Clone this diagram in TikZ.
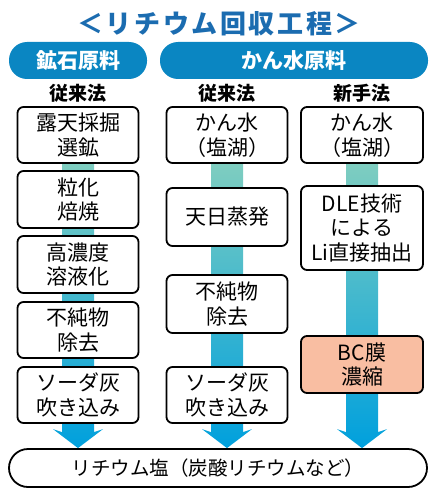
\documentclass[tikz,border=0pt]{standalone}
\usepackage{fontspec}
\setmainfont{Noto Sans CJK JP}
\newfontfamily\titlefont[LetterSpace=10]{Noto Sans CJK JP}
\usetikzlibrary{calc,backgrounds}
\definecolor{titleblue}{RGB}{27,108,176}
\definecolor{headblue}{RGB}{10,134,194}
\definecolor{barTop}{RGB}{126,205,192}
\definecolor{barBot}{RGB}{0,160,221}
\definecolor{salmon}{RGB}{249,190,162}
\tikzset{
  stepbox/.style={draw=black, line width=1.8pt, rounded corners=6pt, fill=white,
    minimum width=121pt, align=center, inner sep=0pt,
    font=\fontsize{21}{24.5}\selectfont},
  headpill/.style={fill=headblue, rounded corners=18pt, minimum height=37pt,
    text=white, inner sep=0pt, font=\fontsize{21}{24}\selectfont\bfseries},
  subhead/.style={inner sep=0pt, font=\fontsize{19}{22}\selectfont\bfseries},
  finpill/.style={draw=black, line width=1.8pt, rounded corners=19pt, fill=white,
    minimum width=418pt, minimum height=38pt, inner sep=0pt,
    font=\fontsize{19.5}{22}\selectfont},
  flowbar/.style={top color=barTop, bottom color=barBot, draw=none}
}
\newcommand\flowarrow[2]{%
  \shade[flowbar] ($(#1.south)+(-16,0)$) -- ($(#2)+(-16,-16)$) -- ($(#2)+(-25,-19)$)
    -- (#2) -- ($(#2)+(25,-19)$) -- ($(#2)+(16,-16)$) -- ($(#1.south)+(16,0)$) -- cycle;}
\begin{document}
\begin{tikzpicture}[x=1pt,y=-1pt]
\useasboundingbox (0,0) rectangle (430,500);
% title
\node[inner sep=0pt, text=titleblue, font=\titlefont\fontsize{26}{30}\selectfont\bfseries] (title) at (219,24) {＜リチウム回収工程＞};
% headers
\node[headpill, minimum width=138pt] (hOre) at (78,60.5) {鉱石原料};
\node[headpill, minimum width=268pt] (hBrine) at (294,60.5) {かん水原料};
\node[subhead] (s1) at (78,93) {従来法};
\node[subhead] (s2) at (227,93) {従来法};
\node[subhead] (s3) at (362,93) {新手法};
% column 1
\node[stepbox, minimum height=56pt] (a1) at (78,135) {露天採掘\\選鉱};
\node[stepbox, minimum height=57pt] (a2) at (78,199.5) {粒化\\焙焼};
\node[stepbox, minimum height=57pt] (a3) at (78,264.5) {高濃度\\溶液化};
\node[stepbox, minimum height=56pt] (a4) at (78,330) {不純物\\除去};
\node[stepbox, minimum height=56pt] (a5) at (78,395) {ソーダ灰\\吹き込み};
% column 2
\node[stepbox, minimum height=56pt] (b1) at (227,135) {かん水\\（塩湖）};
\node[stepbox, minimum height=58pt] (b2) at (227,217) {天日蒸発};
\node[stepbox, minimum height=58pt] (b3) at (227,304) {不純物\\除去};
\node[stepbox, minimum height=56pt] (b4) at (227,395) {ソーダ灰\\吹き込み};
% column 3
\node[stepbox, minimum height=56pt, minimum width=122pt] (c1) at (362,135) {かん水\\（塩湖）};
\node[stepbox, minimum height=84pt, minimum width=122pt] (c2) at (362,228) {DLE技術\\による\\Li直接抽出};
\node[stepbox, minimum height=57pt, minimum width=122pt, fill=salmon] (c3) at (362,364.5) {BC膜\\濃縮};
% final
\node[finpill] (fin) at (218,468) {リチウム塩（炭酸リチウムなど）};
% arrows
\coordinate (t1) at (fin.north -| a1.south);
\coordinate (t2) at (fin.north -| b1.south);
\coordinate (t3) at (fin.north -| c1.south);
\begin{scope}[on background layer]
\flowarrow{a1}{t1}
\flowarrow{b1}{t2}
\flowarrow{c1}{t3}
\end{scope}
\end{tikzpicture}
\end{document}
